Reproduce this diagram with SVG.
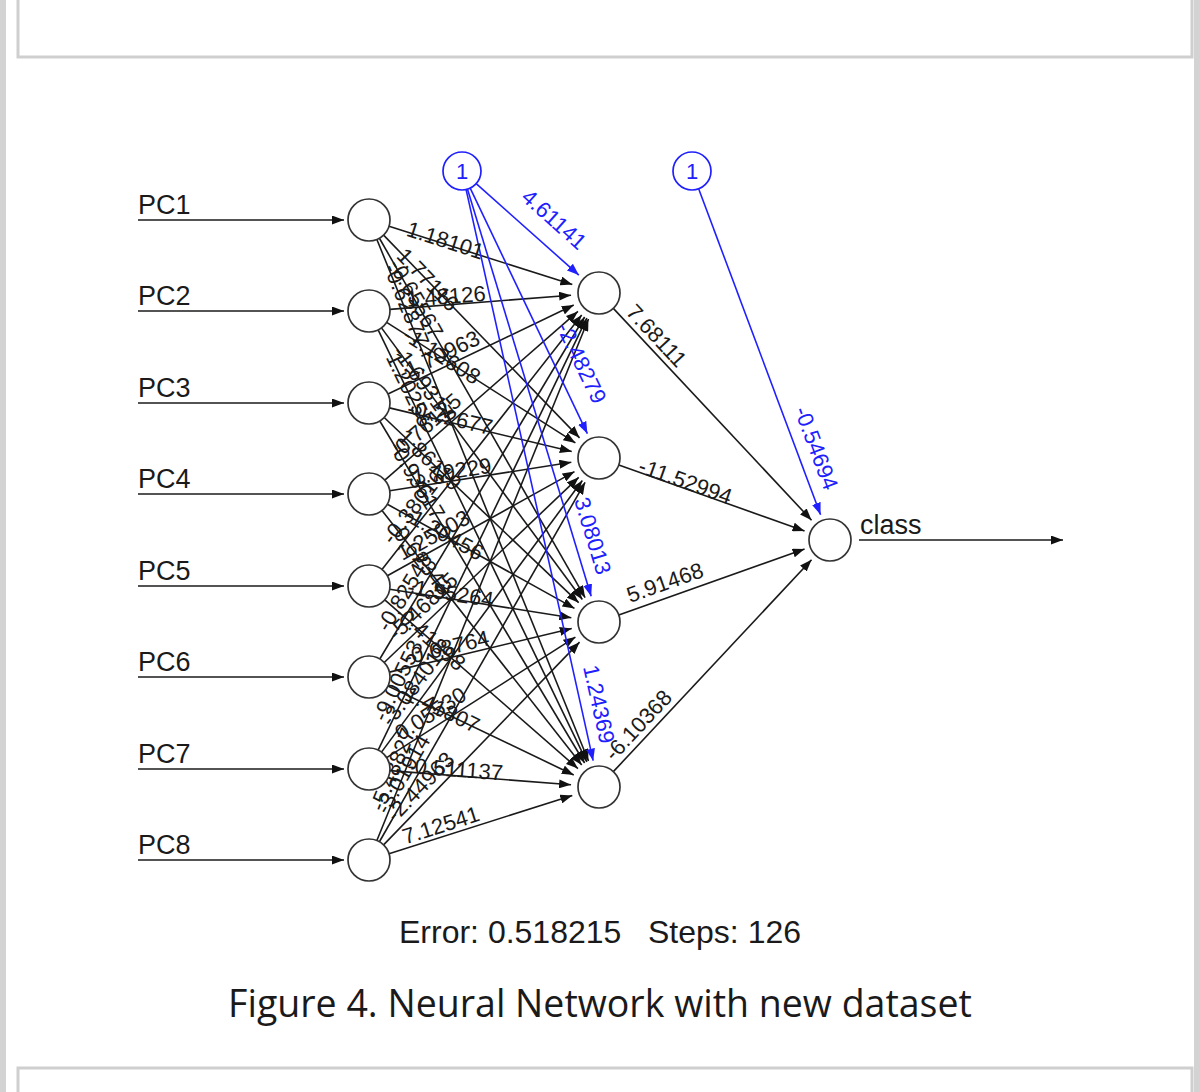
<svg xmlns="http://www.w3.org/2000/svg" width="1200" height="1092" viewBox="0 0 1200 1092">
<style>
.bg{fill:#ffffff}
.frame{fill:#ffffff;stroke:#cfcfcf;stroke-width:3}
.strip{fill:#d3d3d3}
.node{fill:#ffffff;stroke:#333333;stroke-width:1.7}
.bias{fill:#ffffff;stroke:#2020ff;stroke-width:1.7}
.e{stroke:#1a1a1a;stroke-width:1.6;fill:none;marker-end:url(#ah)}
.b{stroke:#2020ff;stroke-width:1.6;fill:none;marker-end:url(#ahb)}
.w{font-family:"Liberation Sans",Arial,sans-serif;font-size:22px;fill:#1a1a1a}
.wb{font-family:"Liberation Sans",Arial,sans-serif;font-size:22px;fill:#2020ff}
.lbl{font-family:"Liberation Sans",Arial,sans-serif;font-size:27px;fill:#1a1a1a}
.one{font-family:"Liberation Sans",Arial,sans-serif;font-size:22px;fill:#2020ff;text-anchor:middle}
.info{font-family:"Liberation Sans",Arial,sans-serif;font-size:32px;fill:#1a1a1a;text-anchor:middle}
.cap{font-family:"Open Sans","Noto Sans",sans-serif;font-size:37.5px;fill:#1a1a1a;text-anchor:middle}
</style>
<defs>
<marker id="ah" viewBox="0 0 12 9" refX="12" refY="4.5" markerWidth="12" markerHeight="9" orient="auto" markerUnits="userSpaceOnUse"><path d="M0,0 L12,4.5 L0,9 z" fill="#111111"/></marker>
<marker id="ahb" viewBox="0 0 12 9" refX="12" refY="4.5" markerWidth="12" markerHeight="9" orient="auto" markerUnits="userSpaceOnUse"><path d="M0,0 L12,4.5 L0,9 z" fill="#2020ff"/></marker>
</defs>
<rect class="bg" x="0" y="0" width="1200" height="1092"/>
<rect class="strip" x="0" y="0" width="6" height="1092"/>
<rect class="strip" x="1194" y="0" width="6" height="1092"/>
<rect class="frame" x="18" y="-10" width="1174" height="67"/>
<rect class="frame" x="18" y="1068" width="1174" height="40"/>

<g id="connectors">
<g id="input-arrows">
<line class="e" x1="138" y1="220" x2="344" y2="220"/>
<line class="e" x1="138" y1="311" x2="344" y2="311"/>
<line class="e" x1="138" y1="403" x2="344" y2="403"/>
<line class="e" x1="138" y1="494" x2="344" y2="494"/>
<line class="e" x1="138" y1="586" x2="344" y2="586"/>
<line class="e" x1="138" y1="677" x2="344" y2="677"/>
<line class="e" x1="138" y1="769" x2="344" y2="769"/>
<line class="e" x1="138" y1="860" x2="344" y2="860"/>
<line class="e" x1="859" y1="540" x2="1063" y2="540"/>
</g>
<g id="input-hidden">
<line class="e" x1="389.02" y1="226.35" x2="572.31" y2="284.53"/>
<line class="e" x1="389.94" y1="309.36" x2="571.09" y2="295.18"/>
<line class="e" x1="387.94" y1="393.94" x2="573.74" y2="305.08"/>
<line class="e" x1="384.81" y1="480.18" x2="577.92" y2="311.43"/>
<line class="e" x1="381.97" y1="569.48" x2="581.71" y2="315.02"/>
<line class="e" x1="379.79" y1="658.98" x2="584.61" y2="317.02"/>
<line class="e" x1="378.14" y1="750.09" x2="586.82" y2="318.21"/>
<line class="e" x1="376.89" y1="840.54" x2="588.48" y2="318.95"/>
<line class="e" x1="383.59" y1="235.10" x2="579.54" y2="437.87"/>
<line class="e" x1="386.70" y1="322.31" x2="575.41" y2="442.92"/>
<line class="e" x1="389.42" y1="407.88" x2="571.77" y2="451.49"/>
<line class="e" x1="389.75" y1="490.75" x2="571.34" y2="462.33"/>
<line class="e" x1="387.35" y1="575.79" x2="574.53" y2="471.62"/>
<line class="e" x1="384.21" y1="662.52" x2="578.72" y2="477.31"/>
<line class="e" x1="381.49" y1="752.12" x2="582.35" y2="480.51"/>
<line class="e" x1="379.43" y1="841.77" x2="585.10" y2="482.30"/>
<line class="e" x1="379.43" y1="238.23" x2="585.10" y2="597.70"/>
<line class="e" x1="381.49" y1="327.88" x2="582.35" y2="599.49"/>
<line class="e" x1="384.21" y1="417.48" x2="578.72" y2="602.69"/>
<line class="e" x1="387.35" y1="504.21" x2="574.53" y2="608.38"/>
<line class="e" x1="389.75" y1="589.25" x2="571.34" y2="617.67"/>
<line class="e" x1="389.42" y1="672.12" x2="571.77" y2="628.51"/>
<line class="e" x1="386.70" y1="757.69" x2="575.41" y2="637.08"/>
<line class="e" x1="383.59" y1="844.90" x2="579.54" y2="642.13"/>
<line class="e" x1="376.89" y1="239.46" x2="588.48" y2="761.05"/>
<line class="e" x1="378.14" y1="329.91" x2="586.82" y2="761.79"/>
<line class="e" x1="379.79" y1="421.02" x2="584.61" y2="762.98"/>
<line class="e" x1="381.97" y1="510.52" x2="581.71" y2="764.98"/>
<line class="e" x1="384.81" y1="599.82" x2="577.92" y2="768.57"/>
<line class="e" x1="387.94" y1="686.06" x2="573.74" y2="774.92"/>
<line class="e" x1="389.94" y1="770.64" x2="571.09" y2="784.82"/>
<line class="e" x1="389.02" y1="853.65" x2="572.31" y2="795.47"/>
</g>
<g id="hidden-output">
<line class="e" x1="613.34" y1="308.34" x2="811.56" y2="520.28"/>
<line class="e" x1="618.79" y1="465.03" x2="804.56" y2="530.97"/>
<line class="e" x1="618.79" y1="614.97" x2="804.56" y2="549.03"/>
<line class="e" x1="613.34" y1="771.66" x2="811.56" y2="559.72"/>
</g>
<g id="bias-edges">
<line class="b" x1="476.19" y1="183.64" x2="578.84" y2="275.04"/>
<line class="b" x1="470.19" y1="188.15" x2="587.37" y2="433.63"/>
<line class="b" x1="467.52" y1="189.18" x2="591.15" y2="596.17"/>
<line class="b" x1="466.12" y1="189.55" x2="593.14" y2="760.64"/>
<line class="b" x1="698.66" y1="188.80" x2="820.54" y2="514.71"/>
</g>
<g id="weights">
<text class="w" transform="translate(405.22 235.52) rotate(17.61)">1.18101</text>
<text class="w" transform="translate(406.88 307.00) rotate(-4.47)">1.48126</text>
<text class="w" transform="translate(403.28 380.87) rotate(-25.56)">-1.70963</text>
<text class="w" transform="translate(397.61 460.24) rotate(-41.15)">-0.76125</text>
<text class="w" transform="translate(392.46 545.65) rotate(-51.87)">-0.38016</text>
<text class="w" transform="translate(388.53 632.99) rotate(-59.08)">-0.82548</text>
<text class="w" transform="translate(385.53 722.81) rotate(-64.21)">-9.00553</text>
<text class="w" transform="translate(383.28 812.46) rotate(-67.92)">-5.48827</text>
<text class="w" transform="translate(395.41 256.89) rotate(45.98)">1.77116</text>
<text class="w" transform="translate(401.02 338.63) rotate(32.59)">-1.12608</text>
<text class="w" transform="translate(405.96 414.93) rotate(13.45)">-0.72677</text>
<text class="w" transform="translate(406.54 486.07) rotate(-8.90)">-1.79229</text>
<text class="w" transform="translate(402.20 561.05) rotate(-29.10)">1.25003</text>
<text class="w" transform="translate(396.52 641.62) rotate(-43.60)">-5.46815</text>
<text class="w" transform="translate(391.60 727.75) rotate(-53.52)">-3.08401</text>
<text class="w" transform="translate(387.87 815.47) rotate(-60.22)">-3.01914</text>
<text class="w" transform="translate(387.87 264.53) rotate(60.22)">-0.65567</text>
<text class="w" transform="translate(391.60 352.25) rotate(53.52)">-1.69317</text>
<text class="w" transform="translate(396.52 438.38) rotate(43.60)">1.86119</text>
<text class="w" transform="translate(402.20 518.95) rotate(29.10)">-1.20456</text>
<text class="w" transform="translate(406.54 593.93) rotate(8.90)">-1.55264</text>
<text class="w" transform="translate(405.96 665.07) rotate(-13.45)">-0.68764</text>
<text class="w" transform="translate(401.02 741.37) rotate(-32.59)">0.05530</text>
<text class="w" transform="translate(395.41 823.11) rotate(-45.98)">-2.44963</text>
<text class="w" transform="translate(383.28 267.54) rotate(67.92)">-0.62877</text>
<text class="w" transform="translate(385.53 357.19) rotate(64.21)">1.20255</text>
<text class="w" transform="translate(388.53 447.01) rotate(59.08)">-0.93617</text>
<text class="w" transform="translate(392.46 534.35) rotate(51.87)">0.62343</text>
<text class="w" transform="translate(397.61 619.76) rotate(41.15)">0.41898</text>
<text class="w" transform="translate(403.28 699.13) rotate(25.56)">1.41807</text>
<text class="w" transform="translate(406.88 773.00) rotate(4.47)">-0.511137</text>
<text class="w" transform="translate(405.22 844.48) rotate(-17.61)">7.12541</text>
<text class="w" transform="translate(625 313) rotate(46.92)">7.68111</text>
<text class="w" transform="translate(637 472) rotate(19.54)">-11.52994</text>
<text class="w" transform="translate(630 603) rotate(-19.54)">5.91468</text>
<text class="w" transform="translate(614 762) rotate(-46.92)">-6.10368</text>
<text class="wb" transform="translate(520 199) rotate(41.69)">4.61141</text>
<text class="wb" transform="translate(556 327) rotate(64.48)">-2.48279</text>
<text class="wb" transform="translate(574 500) rotate(73.07)">3.08013</text>
<text class="wb" transform="translate(583 667) rotate(77.46)">1.24369</text>
<text class="wb" transform="translate(794 410) rotate(69.50)">-0.54694</text>
</g>
</g>

<g id="node-pc1"><circle class="node" cx="369" cy="220" r="21"/><text class="lbl" x="138" y="214">PC1</text></g>
<g id="node-pc2"><circle class="node" cx="369" cy="311" r="21"/><text class="lbl" x="138" y="305">PC2</text></g>
<g id="node-pc3"><circle class="node" cx="369" cy="403" r="21"/><text class="lbl" x="138" y="397">PC3</text></g>
<g id="node-pc4"><circle class="node" cx="369" cy="494" r="21"/><text class="lbl" x="138" y="488">PC4</text></g>
<g id="node-pc5"><circle class="node" cx="369" cy="586" r="21"/><text class="lbl" x="138" y="580">PC5</text></g>
<g id="node-pc6"><circle class="node" cx="369" cy="677" r="21"/><text class="lbl" x="138" y="671">PC6</text></g>
<g id="node-pc7"><circle class="node" cx="369" cy="769" r="21"/><text class="lbl" x="138" y="763">PC7</text></g>
<g id="node-pc8"><circle class="node" cx="369" cy="860" r="21"/><text class="lbl" x="138" y="854">PC8</text></g>
<g id="node-h1"><circle class="node" cx="599" cy="293" r="21"/></g>
<g id="node-h2"><circle class="node" cx="599" cy="458" r="21"/></g>
<g id="node-h3"><circle class="node" cx="599" cy="622" r="21"/></g>
<g id="node-h4"><circle class="node" cx="599" cy="787" r="21"/></g>
<g id="node-class"><circle class="node" cx="830" cy="540" r="21"/><text class="lbl" x="860" y="534">class</text></g>
<g id="node-bias1"><circle class="bias" cx="462" cy="171" r="19"/><text class="one" x="462" y="179">1</text></g>
<g id="node-bias2"><circle class="bias" cx="692" cy="171" r="19"/><text class="one" x="692" y="179">1</text></g>

<text class="info" x="600" y="943" xml:space="preserve">Error: 0.518215   Steps: 126</text>
<text class="cap" x="600" y="1017">Figure 4. Neural Network with new dataset</text>
</svg>
